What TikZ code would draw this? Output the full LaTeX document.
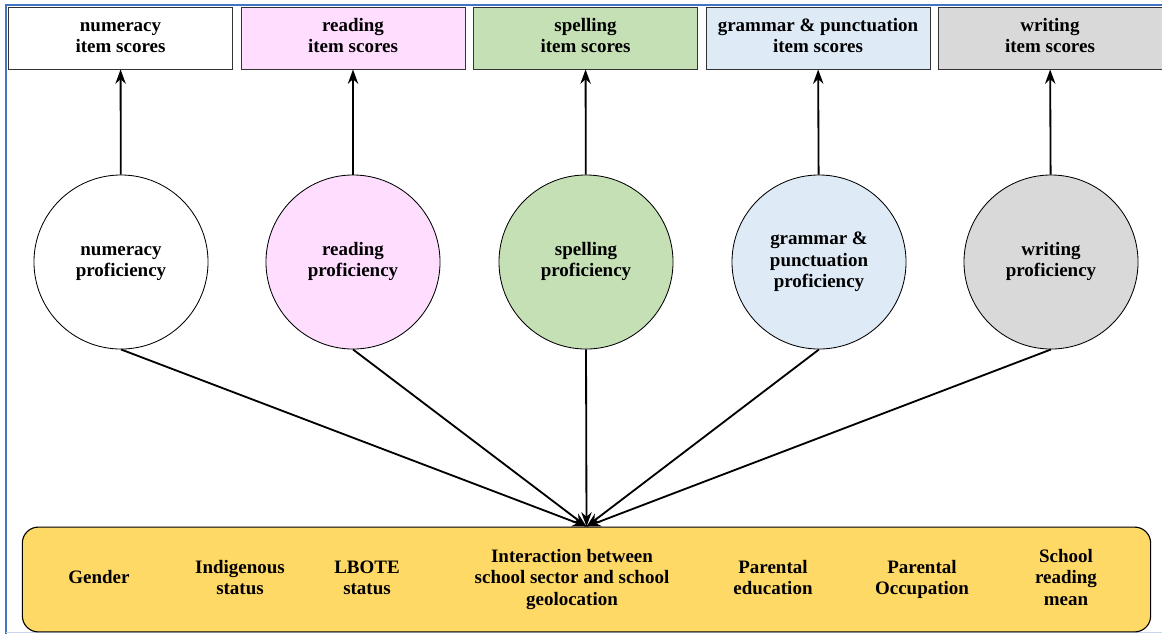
\documentclass[tikz,border=0pt]{standalone}
\usepackage{fontspec}
\setmainfont{Liberation Serif}
\usetikzlibrary{arrows.meta}

\definecolor{framblue}{RGB}{68,114,196}
\definecolor{readpink}{RGB}{255,221,255}
\definecolor{spellgreen}{RGB}{197,224,180}
\definecolor{grampale}{RGB}{222,235,247}
\definecolor{writegray}{RGB}{217,217,217}
\definecolor{covyellow}{RGB}{255,217,102}

\begin{document}
\begin{tikzpicture}[x=0.025cm,y=-0.025cm,
  font=\bfseries\fontsize{13.5}{15.2}\selectfont,
  scorebox/.style={align=center,draw=black!80,line width=0.6pt,minimum width=5.6cm,
    minimum height=1.55cm,inner sep=1pt},
  latent/.style={align=center,circle,draw,line width=0.6pt,minimum size=4.35cm,inner sep=0pt},
  covar/.style={align=center,inner sep=0pt},
  link/.style={-{Stealth[length=3.6mm,width=2.6mm]},line width=1.3pt}]
\useasboundingbox (0,0) rectangle (1162,634);

% slide frame
\draw[framblue,line width=1.2pt] (6,634) -- (6,5) -- (1162,5);
\draw[framblue!30,line width=0.8pt] (6,632.5) -- (1162,632.5);

% observed item scores
\node[scorebox] (numitems) at (120.5,38) {\strut numeracy\\item scores\strut};
\node[scorebox,fill=readpink] (readitems) at (353,38) {\strut reading\\item scores\strut};
\node[scorebox,fill=spellgreen] (spellitems) at (585.5,38) {\strut spelling\\item scores\strut};
\node[scorebox,fill=grampale] (gramitems) at (818,38) {\strut grammar \& punctuation\\item scores\strut};
\node[scorebox,fill=writegray] (writeitems) at (1050,38) {\strut writing\\item scores\strut};

% latent proficiencies
\node[latent] (numprof) at (121,262) {\strut numeracy\\proficiency\strut};
\node[latent,fill=readpink] (readprof) at (353,262) {\strut reading\\proficiency\strut};
\node[latent,fill=spellgreen] (spellprof) at (586,262) {\strut spelling\\proficiency\strut};
\node[latent,fill=grampale] (gramprof) at (819,262) {\strut grammar \&\\punctuation\\proficiency\strut};
\node[latent,fill=writegray] (writeprof) at (1051,262) {\strut writing\\proficiency\strut};

% background variables
\node[draw,line width=0.8pt,fill=covyellow,rounded corners=0.4cm,
  minimum width=28.2cm,minimum height=2.62cm] (covars) at (586.5,579.5) {};
\node[covar] (gender) at (99,579.5) {\strut Gender\strut};
\node[covar] (indig) at (240,579.5) {\strut Indigenous\\status\strut};
\node[covar] (lbote) at (367,579.5) {\strut LBOTE\\status\strut};
\node[covar] (sector) at (572,579.5) {\strut Interaction between\\school sector and school\\geolocation\strut};
\node[covar] (pared) at (773,579.5) {\strut Parental\\education\strut};
\node[covar] (parocc) at (922,579.5) {\strut Parental\\Occupation\strut};
\node[covar] (schmean) at (1066,579.5) {\strut School\\reading\\mean\strut};

% proficiency -> items
\draw[link] (numprof) -- (numitems);
\draw[link] (readprof) -- (readitems);
\draw[link] (spellprof) -- (spellitems);
\draw[link] (gramprof) -- (gramitems);
\draw[link] (writeprof) -- (writeitems);

% background -> proficiency
\draw[link] (numprof.south) -- (covars.north);
\draw[link] (readprof.south) -- (covars.north);
\draw[link] (spellprof.south) -- (covars.north);
\draw[link] (gramprof.south) -- (covars.north);
\draw[link] (writeprof.south) -- (covars.north);
\end{tikzpicture}
\end{document}
